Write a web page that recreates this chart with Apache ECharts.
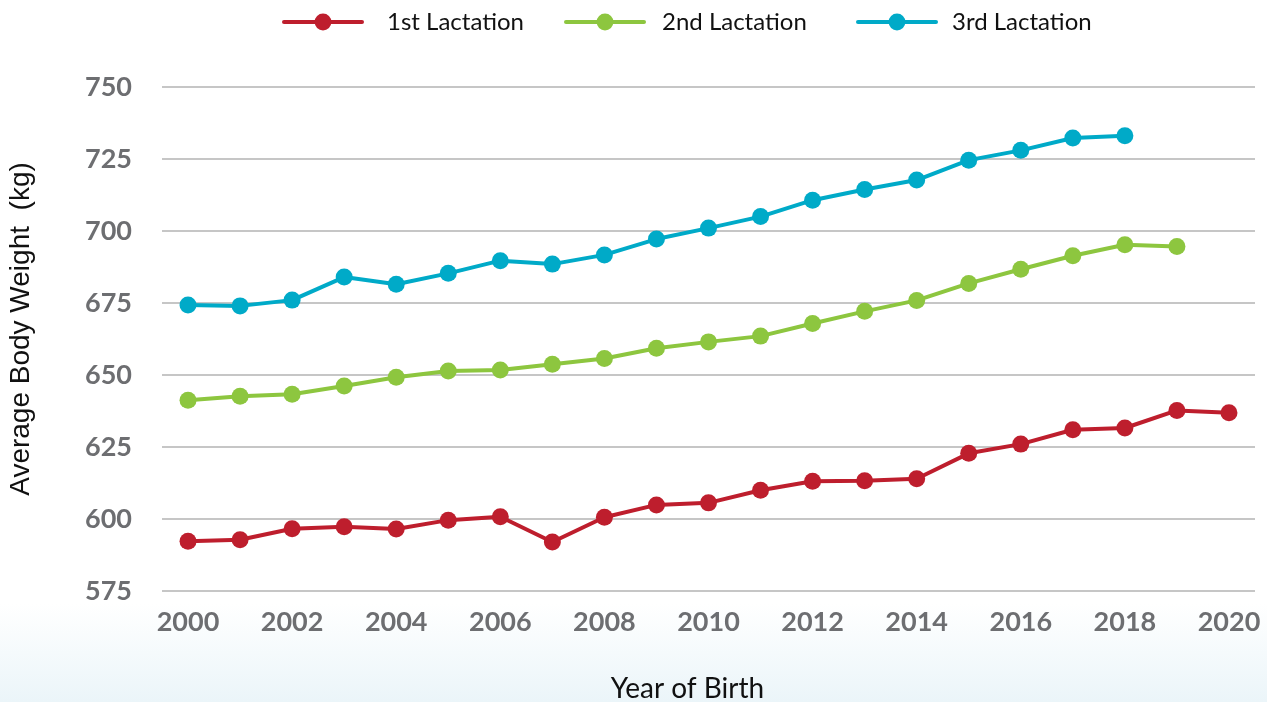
<!DOCTYPE html>
<html>
<head>
<meta charset="utf-8">
<script src="https://cdn.jsdelivr.net/npm/echarts@6/dist/echarts.min.js"></script>
<style>
html,body{margin:0;padding:0;background:#fff;}
#chart{width:1267px;height:702px;}
</style>
</head>
<body>
<div id="chart"></div>
<script>
const years = ['2000','2001','2002','2003','2004','2005','2006','2007','2008','2009','2010','2011','2012','2013','2014','2015','2016','2017','2018','2019','2020'];
const lact1 = [592.3, 592.8, 596.6, 597.3, 596.5, 599.6, 600.8, 592.0, 600.6, 604.9, 605.6, 610.0, 613.1, 613.3, 614.0, 622.8, 626.0, 631.0, 631.6, 637.7, 636.9];
const lact2 = [641.2, 642.6, 643.3, 646.2, 649.2, 651.4, 651.7, 653.7, 655.7, 659.3, 661.5, 663.5, 667.9, 672.1, 675.9, 681.8, 686.7, 691.4, 695.2, 694.6];
const lact3 = [674.3, 674.0, 676.0, 684.0, 681.5, 685.3, 689.7, 688.5, 691.7, 697.2, 701.0, 705.0, 710.7, 714.4, 717.7, 724.6, 728.0, 732.3, 733.1];
const seriesNames = ['1st Lactation', '2nd Lactation', '3rd Lactation'];
const colors = ['#be1e2d', '#8dc63f', '#00aac8'];

const chart = echarts.init(document.getElementById('chart'), null, {renderer: 'canvas'});
const mk = (name, data, color) => ({
  name: name,
  type: 'line',
  data: data,
  symbol: 'circle',
  symbolSize: 17,
  lineStyle: {width: 4, color: color},
  itemStyle: {color: color},
  emphasis: {disabled: true},
  animation: false
});
const legendLefts = [282, 564, 856];
const legendTextGaps = [20, 13, 11];
const mkLegend = (i) => ({
  top: 10,
  left: legendLefts[i],
  padding: 0,
  itemWidth: 78,
  itemHeight: 21,
  lineStyle: {width: 4, cap: 'round'},
  textStyle: {fontFamily: 'Lato', fontSize: 24, color: '#111', padding: [0, 0, 0, legendTextGaps[i]]},
  data: [seriesNames[i]]
});
chart.setOption({
  backgroundColor: new echarts.graphic.LinearGradient(0, 0, 0, 1, [
    {offset: 0, color: '#ffffff'},
    {offset: 0.86, color: '#ffffff'},
    {offset: 1, color: '#ebf5f9'}
  ]),
  color: colors,
  animation: false,
  legend: [mkLegend(0), mkLegend(1), mkLegend(2)],
  grid: {left: 162, right: 12, top: 87, bottom: 111, containLabel: false, outerBoundsMode: 'none'},
  xAxis: {
    type: 'category',
    data: years,
    boundaryGap: true,
    axisLine: {show: false},
    axisTick: {show: false},
    axisLabel: {interval: 1, margin: 18, fontFamily: 'Lato', fontWeight: 'bold', fontSize: 27, color: '#6d6e71'},
    name: 'Year of Birth',
    nameLocation: 'middle',
    nameGap: 84,
    nameTextStyle: {fontFamily: 'Lato', fontSize: 28, color: '#111', padding: [0, 42, 0, 0]}
  },
  yAxis: {
    type: 'value',
    min: 575,
    max: 750,
    interval: 25,
    axisLine: {show: false},
    axisTick: {show: false},
    axisLabel: {margin: 30, fontFamily: 'Lato', fontWeight: 'bold', fontSize: 27, color: '#6d6e71'},
    splitLine: {lineStyle: {color: '#b3b3b3', width: 1.5}},
    name: 'Average Body Weight  (kg)',
    nameLocation: 'middle',
    nameGap: 127,
    nameTextStyle: {fontFamily: 'Liberation Sans', fontSize: 28, color: '#111', padding: [0, 0, 0, 20]}
  },
  series: [
    mk(seriesNames[0], lact1, colors[0]),
    mk(seriesNames[1], lact2, colors[1]),
    mk(seriesNames[2], lact3, colors[2])
  ]
});
</script>
</body>
</html>
